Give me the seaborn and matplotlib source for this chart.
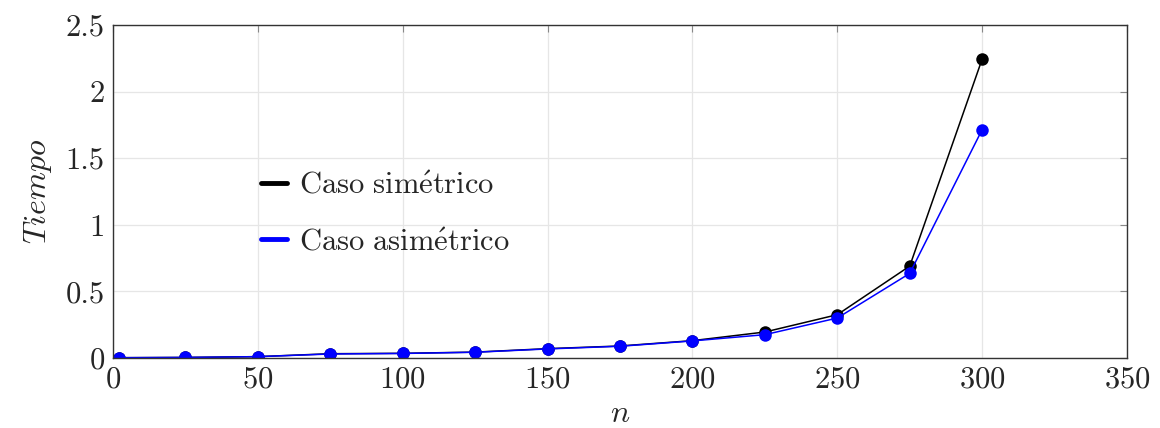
import numpy as np
import pandas as pd
from matplotlib import pyplot as plt
from matplotlib.lines import Line2D
import seaborn as sns

# data
n = [2, 25, 50, 75, 100, 125, 150, 175, 200, 225, 250, 275, 300]
simetrico = [0.002, 0.004, 0.010, 0.032, 0.035, 0.044, 0.070, 0.090, 0.130, 0.195, 0.325, 0.690, 2.245]
asimetrico = [0.002, 0.004, 0.010, 0.030, 0.034, 0.043, 0.068, 0.088, 0.128, 0.175, 0.300, 0.635, 1.715]
labels = ['Caso simétrico', 'Caso asimétrico']

df = pd.DataFrame({'n': n * 2,
                   'tiempo': simetrico + asimetrico,
                   'caso': [labels[0]] * len(n) + [labels[1]] * len(n)})

sns.set_style('whitegrid')
plt.rcParams['font.family'] = ['cmr10', 'DejaVu Serif']
plt.rcParams['mathtext.fontset'] = 'cm'
plt.rcParams['axes.formatter.use_mathtext'] = True

fig = plt.figure(figsize=(11.6, 4.28), dpi=100)
ax = fig.add_axes([0.0974, 0.1636, 0.8742, 0.778])

palette = {labels[0]: 'black', labels[1]: 'blue'}
sns.lineplot(data=df, x='n', y='tiempo', hue='caso', palette=palette,
             marker='o', markersize=9, markeredgewidth=0, linewidth=1.1,
             legend=False, ax=ax)

ax.set_xlim(0, 350)
ax.set_ylim(0, 2.5)
ax.set_xticks(np.arange(0, 351, 50))
ax.set_yticks([0, 0.5, 1, 1.5, 2, 2.5])
ax.set_yticklabels(['0', '0.5', '1', '1.5', '2', '2.5'])
ax.grid(True, color='#e6e6e6', linewidth=0.9)
ax.tick_params(axis='both', labelsize=22, direction='in', length=5,
               color='#888888', top=True, right=True, pad=6)
for s in ax.spines.values():
    s.set_color('#333333')
    s.set_linewidth(1.0)

ax.set_xlabel(r'$n$', fontsize=23, labelpad=5)
ax.set_ylabel(r'$Tiempo$', fontsize=23, labelpad=8)

handles = [Line2D([], [], color='black', linewidth=3.5),
           Line2D([], [], color='blue', linewidth=3.5)]
leg_labels = [r'$\mathrm{Caso\ sim\acute{e}trico}$',
              r'$\mathrm{Caso\ asim\acute{e}trico}$']
ax.legend(handles, leg_labels, loc='center left', bbox_to_anchor=(0.119, 0.433),
          frameon=False, fontsize=22, handlelength=0.85, handletextpad=0.4,
          labelspacing=0.95)

fig.savefig('out.png', dpi=100)
